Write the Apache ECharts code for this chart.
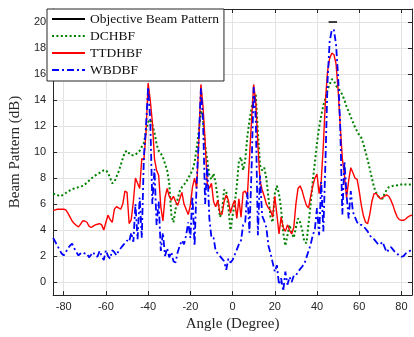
<!DOCTYPE html>
<html>
<head>
<meta charset="utf-8">
<script src="https://cdn.jsdelivr.net/npm/echarts@6/dist/echarts.min.js"></script>
<style>html,body{margin:0;padding:0;background:#fff}#c{width:414px;height:337px}</style>
</head>
<body>
<div id="c"></div>
<script>
// Sample grid of angles (degrees), 1-degree steps from -85 to 85
const angleStart = -85, angleEnd = 85;
const angles = [];
for (let a = angleStart; a <= angleEnd; a++) angles.push(a);

const xTickLabels = [-80, -60, -40, -20, 0, 20, 40, 60, 80];
const yTickLabels = [0, 2, 4, 6, 8, 10, 12, 14, 16, 18, 20];

const objAngles = [45.5, 49.5];
const objValues = [20, 20];

const dchbf = [
  6.8, 6.75, 6.7, 6.6, 6.65, 6.75, 6.85, 6.95, 7.05, 7.15,
  7.2, 7.25, 7.3, 7.35, 7.4, 7.5, 7.65, 7.8, 7.95, 8.1,
  8.2, 8.3, 8.4, 8.5, 8.6, 8.6, 8.4, 8.0, 7.6, 7.7,
  8.1, 8.5, 9.0, 9.5, 10.0, 10.1, 9.9, 9.75, 9.75, 9.8,
  9.95, 10.1, 10.4, 10.7, 11.6, 12.3, 12.5, 12.1, 11.5, 10.6,
  10.1, 9.9, 9.6, 9.1, 8.6, 7.6, 5.2, 4.6, 5.6, 6.4,
  7.0, 7.3, 7.5, 7.7, 8.0, 8.3, 8.6, 9.2, 10.3, 11.6,
  13.2, 12.6, 10.5, 9.4, 8.2, 7.9, 8.35, 7.6, 6.4, 5.0,
  5.4, 7.1, 7.0, 5.8, 4.0, 5.1, 6.0, 7.4, 9.3, 9.6,
  8.6, 9.4, 11.2, 12.4, 13.4, 14.2, 14.4, 11.5, 9.0, 8.6,
  8.8, 8.0, 6.5, 5.0, 4.6, 6.8, 7.4, 6.8, 5.6, 3.8,
  2.8, 3.6, 4.4, 3.8, 3.4, 4.2, 4.9, 4.6, 4.0, 3.1,
  3.0, 4.5, 6.0, 7.8, 9.2, 10.7, 11.9, 12.8, 13.6, 14.1,
  14.8, 15.2, 15.6, 15.5, 15.1, 14.9, 14.7, 14.4, 14.0, 13.5,
  13.1, 12.7, 12.3, 11.9, 11.6, 11.3, 11.1, 10.6, 10.0, 9.4,
  8.7, 8.0, 7.3, 6.9, 6.6, 6.5, 6.4, 6.8, 7.1, 7.3,
  7.35, 7.4, 7.4, 7.45, 7.5, 7.5, 7.55, 7.5, 7.5, 7.5,
  7.5
];

const ttdhbf = [
  5.5, 5.55, 5.6, 5.6, 5.6, 5.6, 5.55, 5.3, 5.0, 4.7,
  4.5, 4.35, 4.25, 4.45, 4.7, 4.7, 4.6, 4.3, 4.2, 4.3,
  4.4, 4.45, 4.5, 4.4, 4.0, 4.6, 5.15, 4.8, 4.6, 5.6,
  5.8, 5.7, 5.6, 6.0, 7.0, 6.9, 4.5, 4.8, 6.2, 8.0,
  7.6, 7.2, 9.5, 9.4, 11.5, 15.3, 14.0, 12.3, 9.5, 8.6,
  8.2, 5.8, 4.7, 6.5, 7.2, 6.6, 6.3, 6.6, 6.2, 5.9,
  6.4, 6.9, 6.0, 5.6, 5.2, 5.9, 7.3, 8.0, 7.2, 10.8,
  15.2, 13.5, 10.8, 7.6, 7.2, 7.6, 6.2, 5.8, 6.3, 5.3,
  5.2, 6.2, 6.7, 6.3, 5.3, 5.9, 6.3, 4.9, 6.4, 5.0,
  6.9, 7.0, 6.6, 9.5, 12.5, 15.2, 13.8, 10.5, 7.8, 7.1,
  6.6, 6.0, 5.7, 5.5, 5.0, 6.6, 5.2, 3.7, 5.0, 4.2,
  3.9, 4.4, 4.0, 3.7, 4.2, 6.0, 7.2, 7.4, 7.0, 6.4,
  5.9, 5.7, 6.6, 7.4, 8.0, 8.3, 6.8, 7.8, 10.5, 14.0,
  16.2, 17.2, 17.6, 17.5, 16.8, 14.8, 12.0, 9.5, 8.2, 6.5,
  7.8, 8.8, 8.4, 8.0, 7.9, 7.0, 5.9, 5.1, 4.6, 4.5,
  5.2, 6.2, 6.8, 6.8, 6.6, 6.4, 6.5, 6.6, 6.7, 6.6,
  6.3, 5.9, 5.4, 5.0, 4.8, 4.75, 4.75, 4.85, 5.0, 5.1,
  5.15
];

const wbdbf = [
  3.4, 3.1, 2.8, 2.5, 2.2, 2.05, 2.3, 2.6, 2.8, 2.95,
  2.6, 2.3, 2.05, 2.2, 2.3, 2.2, 2.2, 1.9, 2.1, 2.3,
  2.0, 1.95, 2.4, 2.0, 1.7, 2.45, 2.0, 1.8, 2.45, 2.3,
  2.05, 2.4, 2.6, 2.8, 3.0, 3.2, 3.1, 3.8, 3.1, 6.0,
  3.3, 6.5, 3.4, 9.7, 12.0, 15.0, 12.5, 6.0, 8.7, 4.4,
  6.2, 2.4, 3.8, 2.0, 2.6, 1.9, 2.3, 1.6, 1.5, 2.3,
  2.8, 3.2, 2.9, 3.6, 4.6, 3.4, 6.6, 2.8, 7.7, 11.0,
  14.9, 12.5, 6.0, 9.0, 4.9, 3.4, 3.4, 2.4, 2.2, 2.0,
  1.8, 1.6, 0.95, 1.8, 1.5, 1.7, 2.1, 2.5, 2.9, 3.2,
  4.4, 4.6, 6.9, 3.8, 8.7, 15.0, 12.5, 3.6, 8.2, 5.1,
  4.7, 4.2, 2.8, 2.2, 1.5, 0.8, 1.3, -0.2, 0.3, -0.7,
  0.8, -0.2, 0.4, 0.0, 0.5, 0.5, 0.8, 1.0, 1.2, 1.4,
  1.9, 2.4, 2.9, 3.6, 4.1, 5.7, 3.6, 7.7, 3.9, 9.3,
  15.5, 18.5, 19.4, 19.4, 18.3, 15.8, 12.0, 5.2, 9.3, 6.7,
  4.9, 7.0, 5.4, 5.0, 4.6, 4.4, 4.4, 4.3, 4.1, 3.9,
  3.6, 3.4, 3.3, 3.1, 2.9, 2.9, 3.1, 2.7, 2.3, 2.5,
  2.7, 2.5, 2.3, 2.2, 2.0, 1.95, 2.0, 2.2, 2.3, 2.4,
  2.5
];

const pairs = (xs, ys) => xs.map((x, i) => [x, ys[i]]);

const axisColor = '#262626';
const gridColor = '#e3e3e3';
const labelFont = { fontFamily: 'Liberation Sans', fontSize: 11, color: axisColor };
const nameFont = { fontFamily: 'Liberation Serif', fontSize: 15, color: axisColor };

const chart = echarts.init(document.getElementById('c'), null, { renderer: 'canvas' });
chart.setOption({
  animation: false,
  backgroundColor: '#ffffff',
  grid: { left: 47, right: 2, top: 9, bottom: 41, containLabel: false },
  legend: {
    left: 47, top: 9, orient: 'vertical',
    itemWidth: 33, itemHeight: 12, itemGap: 3,
    padding: [3, 5, 4, 4],
    backgroundColor: '#ffffff',
    borderColor: axisColor, borderWidth: 1, borderRadius: 0,
    itemStyle: { opacity: 0 },
    textStyle: { fontFamily: 'Liberation Serif', fontSize: 13.5, color: '#111' },
    data: ['Objective Beam Pattern', 'DCHBF', 'TTDHBF', 'WBDBF']
  },
  xAxis: [{
    type: 'value', min: angleStart, max: angleEnd, splitNumber: 8,
    name: 'Angle (Degree)', nameLocation: 'middle', nameGap: 20, nameTextStyle: nameFont,
    axisLine: { show: true, onZero: false, lineStyle: { color: axisColor, width: 1 } },
    axisTick: { show: true, inside: true, length: 4, lineStyle: { color: axisColor } },
    axisLabel: Object.assign({ margin: 6, customValues: xTickLabels }, labelFont),
    splitLine: { show: true, lineStyle: { color: gridColor, width: 1 } }
  }, {
    type: 'value', min: angleStart, max: angleEnd, splitNumber: 8, position: 'top',
    axisLine: { show: true, onZero: false, lineStyle: { color: axisColor, width: 1 } },
    axisTick: { show: true, inside: true, length: 4, lineStyle: { color: axisColor } },
    axisLabel: { show: false }, splitLine: { show: false }
  }],
  yAxis: [{
    type: 'value', min: -1, max: 21, splitNumber: 11,
    name: 'Beam Pattern (dB)', nameLocation: 'middle', nameGap: 24, nameRotate: 90,
    nameTextStyle: nameFont,
    axisLine: { show: true, onZero: false, lineStyle: { color: axisColor, width: 1 } },
    axisTick: { show: true, inside: true, length: 4, lineStyle: { color: axisColor } },
    axisLabel: Object.assign({ margin: 7, customValues: yTickLabels }, labelFont),
    splitLine: { show: true, lineStyle: { color: gridColor, width: 1 } }
  }, {
    type: 'value', min: -1, max: 21, splitNumber: 11, position: 'right',
    axisLine: { show: true, onZero: false, lineStyle: { color: axisColor, width: 1 } },
    axisTick: { show: true, inside: true, length: 4, lineStyle: { color: axisColor } },
    axisLabel: { show: false }, splitLine: { show: false }
  }],
  series: [
    { name: 'Objective Beam Pattern', type: 'line', symbol: 'none', silent: true,
      lineStyle: { color: '#000000', width: 1.6 }, itemStyle: { color: '#000000', opacity: 0 },
      data: pairs(objAngles, objValues) },
    { name: 'DCHBF', type: 'line', symbol: 'none', silent: true,
      lineStyle: { color: '#008000', width: 2, type: [2, 2.4] }, itemStyle: { color: '#008000', opacity: 0 },
      data: pairs(angles, dchbf) },
    { name: 'TTDHBF', type: 'line', symbol: 'none', silent: true,
      lineStyle: { color: '#ff0000', width: 1.4 }, itemStyle: { color: '#ff0000', opacity: 0 },
      data: pairs(angles, ttdhbf) },
    { name: 'WBDBF', type: 'line', symbol: 'none', silent: true,
      lineStyle: { color: '#0000ff', width: 1.8, type: [7, 3, 2, 3] }, itemStyle: { color: '#0000ff', opacity: 0 },
      data: pairs(angles, wbdbf) }
  ]
});
</script>
</body>
</html>
